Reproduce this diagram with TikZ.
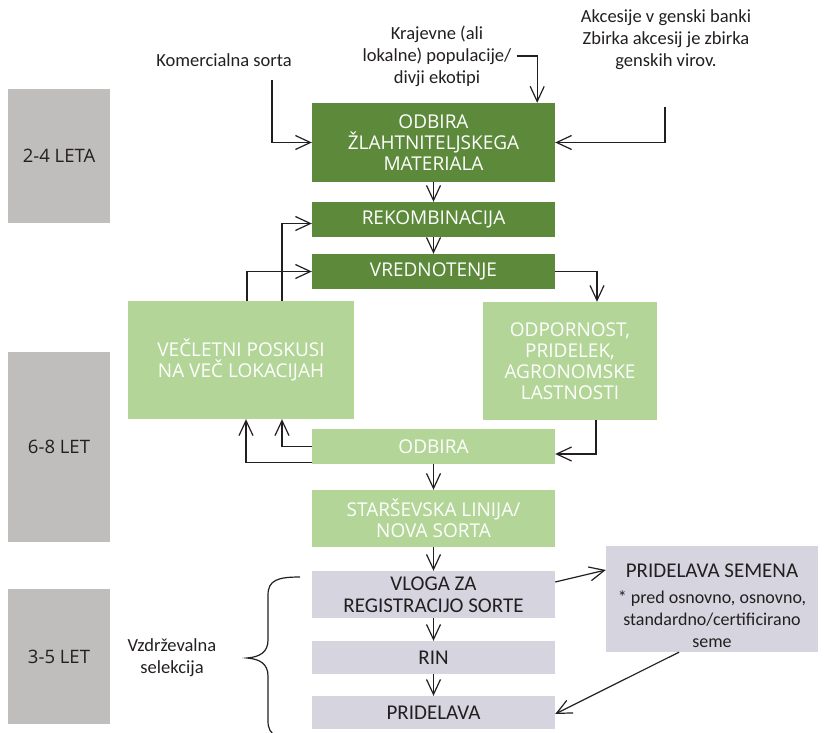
\documentclass[tikz,border=0pt]{standalone}
\usepackage{fontspec}
\setmainfont{Carlito}
\newfontfamily\opensans{Open Sans}
\usetikzlibrary{arrows.meta}
\definecolor{darkgreen}{RGB}{92,138,58}
\definecolor{lightgreen}{RGB}{179,214,152}
\definecolor{sidegray}{RGB}{191,190,188}
\definecolor{boxgray}{RGB}{214,213,223}
\definecolor{ink}{RGB}{35,31,32}
\newcommand{\smallnote}{\fontsize{18}{20}\selectfont}

\begin{document}
\begin{tikzpicture}[x=1pt,y=-1pt]
\tikzstyle{every node}+=[inner sep=0pt, align=center]
\tikzstyle{darkbox}=[fill=darkgreen, text=white, minimum width=243pt, font=\opensans\fontsize{19}{21}\selectfont]
\tikzstyle{lightbox}=[fill=lightgreen, text=white, font=\opensans\fontsize{19}{21}\selectfont]
\tikzstyle{graybox}=[fill=boxgray, text=ink, minimum width=243pt, font=\fontsize{21}{22}\selectfont]
\tikzstyle{sidebox}=[fill=sidegray, text=ink, minimum width=102pt, font=\opensans\fontsize{18.5}{22}\selectfont]
\tikzstyle{note}=[text=ink, font=\fontsize{18.5}{22}\selectfont]
\tikzstyle{conn}=[ink, line width=1.2pt]
\tikzstyle{arr}=[conn, -{Straight Barb[length=15pt,width=14pt]}]
\useasboundingbox (0,0) rectangle (824,733);
\node[sidebox, minimum height=134pt] (leta) at (59,156) {2-4 LETA};
\node[sidebox, minimum height=190pt] (let68) at (59,447) {6-8 LET};
\node[sidebox, minimum height=135pt] (let35) at (59,656.5) {3-5 LET};
\node[darkbox, minimum height=79pt] (odbira) at (433.5,142.5) {ODBIRA\\ŽLAHTNITELJSKEGA\\MATERIALA};
\node[darkbox, minimum height=35pt] (rekomb) at (433.5,219.5) {REKOMBINACIJA};
\node[darkbox, minimum height=35pt] (vredn) at (433.5,271.5) {VREDNOTENJE};
\node[lightbox, minimum width=226pt, minimum height=118pt] (poskusi) at (241,360) {VEČLETNI POSKUSI\\NA VEČ LOKACIJAH};
\node[lightbox, minimum width=174pt, minimum height=118pt] (odpornost) at (570,361) {ODPORNOST,\\PRIDELEK,\\AGRONOMSKE\\LASTNOSTI};
\node[lightbox, minimum width=243pt, minimum height=35pt] (izbor) at (433.5,446.5) {ODBIRA};
\node[lightbox, minimum width=243pt, minimum height=57pt] (linija) at (433.5,518.5) {STARŠEVSKA LINIJA/\\NOVA SORTA};
\node[graybox, minimum height=47pt] (vloga) at (433.5,594.5) {VLOGA ZA\\REGISTRACIJO SORTE};
\node[graybox, minimum height=33pt] (rin) at (433.5,657.5) {RIN};
\node[graybox, minimum height=33pt] (pridelava) at (433.5,712.5) {PRIDELAVA};
\node[graybox, minimum width=212pt, minimum height=106pt] (semena) at (712,599) {\rule{0pt}{28pt}PRIDELAVA SEMENA\\[4pt]\smallnote * pred osnovno, osnovno,\\\smallnote standardno/certificirano\\\smallnote seme};
\node[note] (komerc) at (224,60) {Komercialna sorta};
\node[note] (kraj) at (437,56) {Krajevne (ali\\lokalne) populacije/\\divji ekotipi};
\node[note] (akces) at (666,40) {Akcesije v genski banki\\Zbirka akcesij je zbirka\\genskih virov.};
\node[note] (vzdr) at (172,658) {Vzdrževalna\\selekcija};
\coordinate (k1) at (272,80);
\coordinate (a1) at (665,107);
\draw[arr] (k1) |- (odbira.west);
\draw[arr] (a1) |- (odbira.east);
\draw[arr] ([xshift=5pt]kraj.east) -| ([xshift=-18pt]odbira.north east);
\draw[arr] (odbira) -- (rekomb);
\draw[arr] (rekomb) -- (vredn);
\draw[arr] ([xshift=6pt]poskusi.north) |- (vredn.west);
\draw[arr] ([xshift=41pt]poskusi.north) |- ([yshift=-4pt]rekomb.west);
\draw[arr] (vredn.east) -| ([xshift=27pt]odpornost.north);
\draw[arr] ([xshift=26pt]odpornost.south) |- ([yshift=-7.5pt]izbor.east);
\draw[arr] ([yshift=-16pt]izbor.west) -| ([xshift=5pt]poskusi.south);
\draw[arr] (izbor.west) -| ([xshift=41pt]poskusi.south);
\draw[arr] (izbor) -- (linija);
\draw[arr] (linija) -- (vloga);
\draw[arr] (vloga) -- (rin);
\draw[arr] (rin) -- (pridelava);
\draw[arr] ([yshift=12.5pt]vloga.east) -- ([yshift=29pt]semena.west);
\draw[arr] ([xshift=-33pt]semena.south) -- ([yshift=-1.5pt]pridelava.east);
\begin{scope}
\clip (0,0) rectangle (824,733);
\draw[conn] (300,577) .. controls (278,577) and (268,580) .. (268,595) -- (268,640) .. controls (268,652) and (260,657) .. (247,658) .. controls (260,659) and (268,664) .. (268,676) -- (268,721) .. controls (268,736) and (278,739) .. (300,739);
\end{scope}
\end{tikzpicture}
\end{document}
